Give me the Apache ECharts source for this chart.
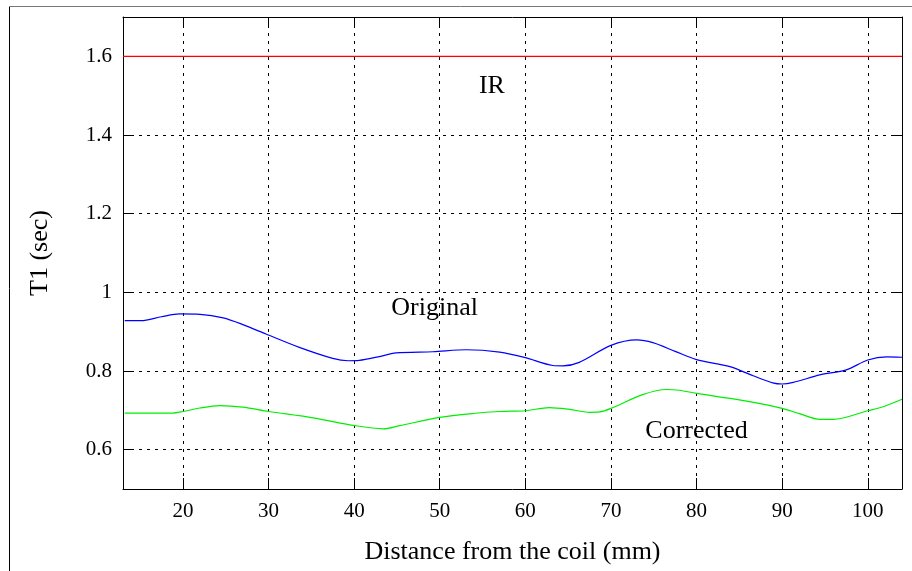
<!DOCTYPE html>
<html>
<head>
<meta charset="utf-8">
<script src="https://cdn.jsdelivr.net/npm/echarts@6/dist/echarts.min.js"></script>
<style>html,body{margin:0;padding:0;background:#fff}#c{width:912px;height:571px}</style>
</head>
<body>
<div id="c"></div>
<script>
// ---- data ----
var irX = [13, 104];
var irY = [1.6, 1.6];

var origX = [13.2, 15.1, 17.5, 19.6, 22.0, 24.7, 27.0, 29.7, 33.6, 37.5, 39.3, 40.6, 42.8, 44.9, 49.2, 53.1, 57.0, 60.0, 63.2, 64.4, 66.3, 70.0, 73.0, 74.9, 77.5, 80.0, 83.9, 86.6, 88.9, 90.0, 91.3, 94.4, 97.5, 100.0, 102.2, 104.0];
var origY = [0.928, 0.928, 0.938, 0.945, 0.944, 0.935, 0.918, 0.894, 0.860, 0.832, 0.826, 0.827, 0.836, 0.846, 0.849, 0.854, 0.848, 0.834, 0.814, 0.813, 0.822, 0.865, 0.879, 0.872, 0.850, 0.829, 0.811, 0.788, 0.770, 0.767, 0.771, 0.790, 0.803, 0.828, 0.836, 0.835];

var corrX = [13.2, 16.0, 18.8, 20.0, 22.0, 24.3, 27.0, 30.0, 35.2, 40.1, 43.4, 45.3, 50.0, 53.9, 57.0, 60.0, 62.8, 65.0, 67.5, 68.7, 70.0, 73.7, 76.5, 78.0, 80.0, 84.3, 88.2, 90.0, 92.1, 94.4, 96.0, 100.0, 101.8, 104.0];
var corrY = [0.693, 0.693, 0.693, 0.697, 0.706, 0.712, 0.708, 0.697, 0.681, 0.661, 0.653, 0.661, 0.682, 0.692, 0.697, 0.699, 0.707, 0.703, 0.695, 0.696, 0.705, 0.740, 0.753, 0.751, 0.743, 0.729, 0.714, 0.705, 0.691, 0.677, 0.677, 0.699, 0.709, 0.728];

var xTitle = 'Distance from the coil (mm)';
var yTitle = 'T1 (sec)';
var labels = [
  {text: 'IR', x: 56.1, y: 1.523},
  {text: 'Original', x: 49.4, y: 0.961},
  {text: 'Corrected', x: 80.0, y: 0.648}
];

function pairs(xs, ys) { return xs.map(function (x, i) { return [x, ys[i]]; }); }

var FONT = 'Liberation Serif';
var chart = echarts.init(document.getElementById('c'), null, {renderer: 'canvas'});

var xBase = {
  type: 'value', min: 13, max: 104, splitNumber: 9,
  axisLine: {show: true, lineStyle: {color: '#000', width: 1}},
  axisTick: {show: true, inside: true, length: 11, lineStyle: {color: '#000'}}
};
var yBase = {
  type: 'value', min: 0.5, max: 1.7, splitNumber: 6,
  axisLine: {show: true, lineStyle: {color: '#000', width: 1}},
  axisTick: {show: true, inside: true, length: 11, lineStyle: {color: '#000'}}
};

chart.setOption({
  animation: false,
  backgroundColor: '#fff',
  grid: {left: 123, top: 17, right: 10, bottom: 82, containLabel: false},
  graphic: [
    {type: 'line', shape: {x1: 9.5, y1: 6, x2: 9.5, y2: 571}, style: {stroke: '#000', lineWidth: 1}},
    {type: 'line', shape: {x1: 9, y1: 6.5, x2: 912, y2: 6.5}, style: {stroke: '#777', lineWidth: 1}}
  ],
  xAxis: [
    Object.assign({}, xBase, {
      position: 'bottom',
      name: xTitle, nameLocation: 'middle', nameGap: 50,
      nameTextStyle: {fontFamily: FONT, fontSize: 26, color: '#000'},
      axisLabel: {fontFamily: FONT, fontSize: 21, color: '#000', margin: 12, showMinLabel: false, showMaxLabel: false},
      splitLine: {show: true, lineStyle: {color: '#000', type: [3, 5], width: 1}}
    }),
    Object.assign({}, xBase, {position: 'top', axisLabel: {show: false}, splitLine: {show: false}})
  ],
  yAxis: [
    Object.assign({}, yBase, {
      position: 'left',
      name: yTitle, nameLocation: 'middle', nameGap: 70, nameRotate: 90,
      nameTextStyle: {fontFamily: FONT, fontSize: 26, color: '#000'},
      axisLabel: {fontFamily: FONT, fontSize: 21, color: '#000', margin: 11, showMinLabel: false, showMaxLabel: false},
      splitLine: {show: true, lineStyle: {color: '#000', type: [3, 5], width: 1}}
    }),
    Object.assign({}, yBase, {position: 'right', axisLabel: {show: false}, splitLine: {show: false}})
  ],
  series: [
    {
      type: 'line', name: 'IR', data: pairs(irX, irY), showSymbol: false,
      lineStyle: {color: '#ff0000', width: 1.2}, z: 3
    },
    {
      type: 'line', name: 'Original', data: pairs(origX, origY), showSymbol: false, smooth: 0.3,
      lineStyle: {color: '#0000ff', width: 1.2}, z: 3
    },
    {
      type: 'line', name: 'Corrected', data: pairs(corrX, corrY), showSymbol: false, smooth: 0.3,
      lineStyle: {color: '#00ee00', width: 1.2}, z: 3
    },
    {
      type: 'scatter', name: 'labels', symbolSize: 0, silent: true, z: 5,
      itemStyle: {opacity: 1, color: '#000'},
      data: labels.map(function (l) { return {value: [l.x, l.y], name: l.text}; }),
      label: {show: true, position: 'inside', formatter: '{b}', fontFamily: FONT, fontSize: 26, color: '#000', textBorderWidth: 0, opacity: 1}
    }
  ]
});
</script>
</body>
</html>
